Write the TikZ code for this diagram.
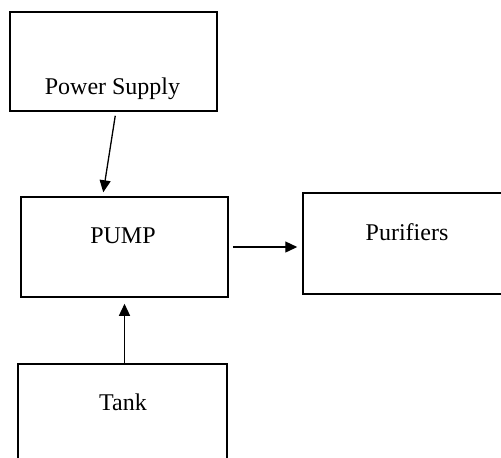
\documentclass[tikz,border=0pt]{standalone}
\usepackage{fontspec}
\setmainfont{Liberation Serif}
\usetikzlibrary{arrows.meta}
\begin{document}
\begin{tikzpicture}[x=0.5pt,y=-0.5pt,
  box/.style={draw, line width=0.75pt, rectangle, inner sep=0pt},
  lbl/.style={anchor=base, font=\fontsize{12}{14}\selectfont, inner sep=0pt},
  arr/.style={line width=0.65pt, -{Triangle[length=6pt,width=5.5pt]}}]
\useasboundingbox (0,0) rectangle (501,457);
% boxes
\node[box, minimum width=103.5pt, minimum height=49.5pt] (ps) at (113.5,61.5) {};
\node[box, minimum width=103.5pt, minimum height=50pt] (pump) at (124.5,247) {};
\node[box, minimum width=107pt, minimum height=50.5pt] (pur) at (410,243.5) {};
\node[box, minimum width=104.5pt, minimum height=55pt] (tank) at (122.5,419) {};
% labels
\node[lbl] (tps) at (112.5,94) {Power Supply};
\node[lbl] (tpump) at (123,243) {PUMP};
\node[lbl] (tpur) at (407,240) {Purifiers};
\node[lbl] (ttank) at (123,410) {Tank};
% connectors
\draw[arr] ([xshift=53pt,yshift=-2pt]ps.south west) -- ([xshift=41.5pt,yshift=2pt]pump.north west);
\draw[arr, shorten <=2pt, shorten >=2.5pt] (pump.east) -- (pump.east -| pur.west);
\draw[arr, shorten >=3pt] (pump.south |- tank.north) -- (pump.south);
\end{tikzpicture}
\end{document}
